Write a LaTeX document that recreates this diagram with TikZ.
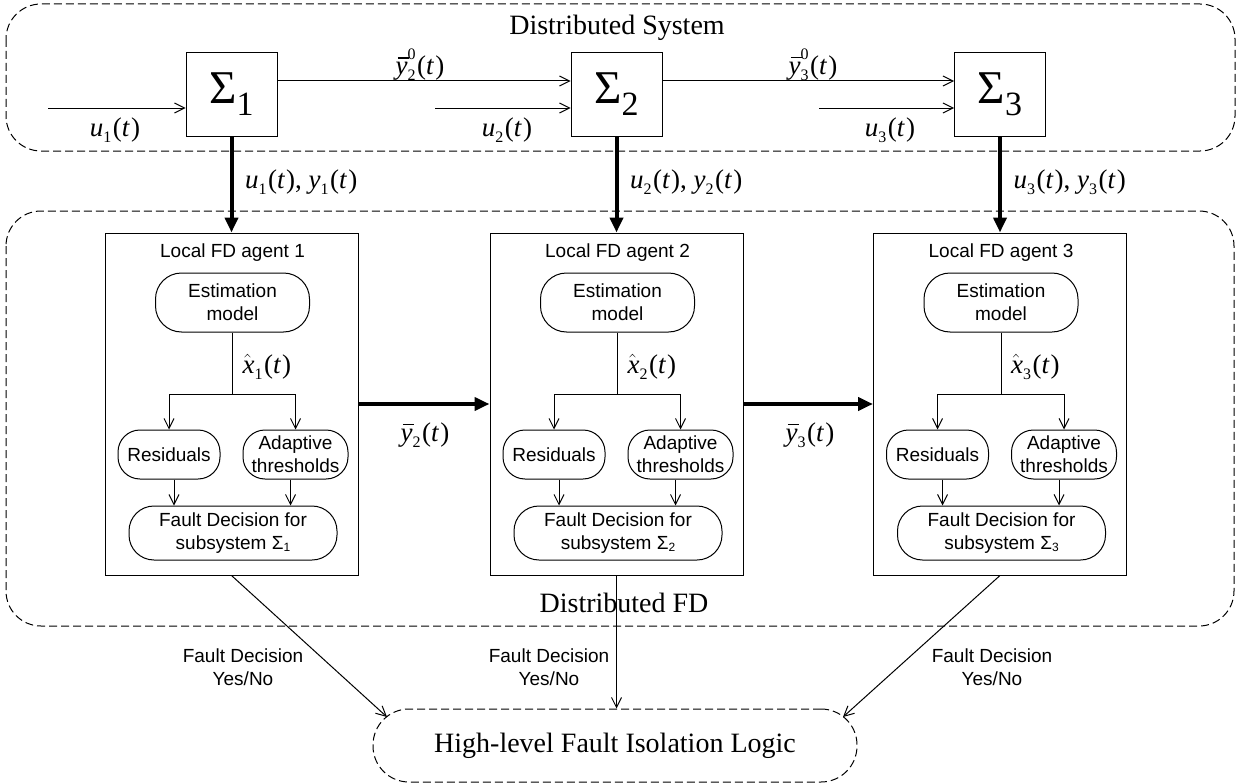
\documentclass[tikz,border=0pt]{standalone}
\usepackage{fontspec}
\setmainfont{Liberation Serif}
\setsansfont{Liberation Sans}
\usetikzlibrary{arrows.meta,calc}
\newcommand\lsub[1]{\raisebox{-0.22em}{\fontsize{16}{16}\selectfont #1}}
\newcommand\lsup[1]{\raisebox{0.55em}{\fontsize{16}{16}\selectfont #1}}
\newcommand\ovl[1]{\leavevmode\rlap{\kern0.08em\rule[0.6em]{0.42em}{1.1pt}}\textit{#1}}
\newcommand\xhat{$\hat{\mbox{\textit{x}\kern-0.08em}}$\kern0.08em}
\newcommand\tpar{\kern1.5pt(\textit{t}\kern1pt)}
\tikzset{
  base/.style={line width=1pt},
  dbox/.style={draw, dash pattern=on 8pt off 4pt, rounded corners=35pt, line width=1pt},
  sig/.style={draw, line width=1pt, minimum width=91pt, minimum height=83pt, inner sep=0pt},
  agent/.style={draw, line width=1pt, minimum width=253pt, minimum height=342pt, inner sep=0pt},
  rbox/.style={draw, line width=1pt, rounded corners=22pt, align=center, inner sep=0pt, font=\sffamily\fontsize{19}{23}\selectfont},
  lab/.style={inner sep=0pt, font=\fontsize{27}{27}\selectfont},
  slab/.style={inner sep=0pt, align=center, font=\sffamily\fontsize{19}{23}\selectfont},
  ttl/.style={inner sep=0pt, font=\fontsize{28}{28}\selectfont},
  arr/.style={line width=1pt, -{Straight Barb[length=10pt,width=10pt]}},
  barr/.style={line width=4pt, -{Triangle[length=15pt,width=13pt]}},
}
\begin{document}
\begin{tikzpicture}[x=1pt,y=-1pt]
\useasboundingbox (0,0) rectangle (1243,784);
\draw[dbox] (6,4) rectangle (1235,151);
\draw[dbox] (6,211) rectangle (1234,626);
\node[ttl] (tsys) at (617,28) {Distributed System};
\node[ttl] (tfd) at (624,603) {Distributed FD};
\coordinate (ui1) at (48,108);
\coordinate (ui2) at (435,108);
\coordinate (ui3) at (819,108);
\foreach \i/\cx in {1/231.5,2/616.5,3/1000}{
  \node[sig] (s\i) at (\cx,94.5) {{\fontsize{47}{47}\selectfont Σ\raisebox{-12pt}{\fontsize{34}{34}\selectfont \i}}};
  \node[agent] (a\i) at (\cx,404) {};
  \node[slab] (lt\i) at (\cx+1,253) {Local FD agent \i};
  \node[rbox,rounded corners=26pt,minimum width=154pt,minimum height=59pt] (e\i) at (\cx+1,302.5) {Estimation\\model};
  \node[rbox,minimum width=102pt,minimum height=49pt] (r\i) at (\cx-62.5,454.5) {Residuals};
  \node[rbox,minimum width=105pt,minimum height=49pt] (d\i) at (\cx+64,454.5) {Adaptive\\thresholds};
  \node[rbox,rounded corners=25pt,minimum width=208pt,minimum height=54pt] (f\i) at (\cx+1.5,533) {Fault Decision for\\subsystem Σ{\fontsize{12}{12}\selectfont\raisebox{-0.15em}{\i}}};
  \coordinate (b\i) at (\cx+1,394);
  \draw[base] (e\i.south) -- (b\i);
  \draw[arr] (b\i) -| (r\i.north);
  \draw[arr] (b\i) -| (d\i.north);
  \draw[arr] ([xshift=5pt]r\i.south) -- ([xshift=5pt]r\i.south |- f\i.north);
  \draw[arr] ([xshift=-5pt]d\i.south) -- ([xshift=-5pt]d\i.south |- f\i.north);
  \node[lab,anchor=west] (xh\i) at (\cx+11,367) {\xhat\lsub{\i}\tpar};
  \draw[barr] (s\i.south) -- (a\i.north);
  \node[lab,anchor=west] (uy\i) at (\cx+13.5,182) {\textit{u}\lsub{\i}\tpar, \textit{y}\lsub{\i}\tpar};
  \draw[arr] (ui\i) -- (ui\i -| s\i.west);
}
\node[lab] (lu1) at (115,130) {\textit{u}\lsub{1}\tpar};
\node[lab] (lu2) at (507,130) {\textit{u}\lsub{2}\tpar};
\node[lab] (lu3) at (890,130) {\textit{u}\lsub{3}\tpar};
\draw[arr] ([yshift=13.5pt]s1.east) -- ([yshift=13.5pt]s2.west);
\draw[arr] ([yshift=13.5pt]s2.east) -- ([yshift=13.5pt]s3.west);
\node[lab] (ly20) at (420,65) {\ovl{y}\rlap{\lsub{2}}\lsup{0}\tpar};
\node[lab] (ly30) at (813,65) {\ovl{y}\rlap{\lsub{3}}\lsup{0}\tpar};
\draw[barr] (a1.east) -- (a2.west);
\draw[barr] (a2.east) -- (a3.west);
\node[lab] (ly2) at (425,435) {\ovl{y}\lsub{2}\tpar};
\node[lab] (ly3) at (810,435) {\ovl{y}\lsub{3}\tpar};
\node[dbox, ttl, minimum width=484pt, minimum height=73pt, rounded corners=36pt] (hl) at (615,745.5) {High-level Fault Isolation Logic};
\coordinate (t1) at (387,717);
\coordinate (t3) at (843,717);
\draw[arr] (a1.south) -- (t1);
\draw[arr] (a2.south) -- (a2.south |- hl.north);
\draw[arr] (a3.south) -- (t3);
\node[slab] (fd1) at (243,667) {Fault Decision\\Yes/No};
\node[slab] (fd2) at (549,667) {Fault Decision\\Yes/No};
\node[slab] (fd3) at (992,667) {Fault Decision\\Yes/No};
\end{tikzpicture}
\end{document}
